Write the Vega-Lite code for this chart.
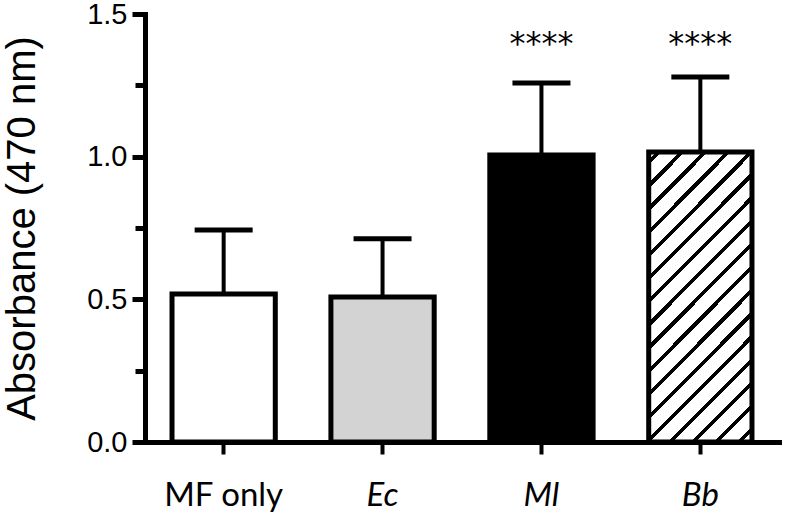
{
  "$schema": "https://vega.github.io/schema/vega-lite/v6.json",
  "width": 634,
  "height": 428,
  "autosize": "none",
  "padding": {"left": 145, "top": 14, "right": 8, "bottom": 77},
  "background": "white",
  "config": {"view": {"stroke": null}},
  "data": {
    "values": [
      {"group": "MF only", "mean": 0.519, "err": 0.743, "sig": ""},
      {"group": "Ec", "mean": 0.508, "err": 0.712, "sig": ""},
      {"group": "Ml", "mean": 1.006, "err": 1.258, "sig": "****"},
      {"group": "Bb", "mean": 1.016, "err": 1.279, "sig": "****"}
    ]
  },
  "encoding": {
    "x": {
      "field": "group",
      "type": "nominal",
      "sort": null,
      "scale": {"paddingInner": 0.35, "paddingOuter": 0.17},
      "axis": {
        "title": null,
        "labelAngle": 0,
        "labelFont": "Lato",
        "labelFontSize": 33,
        "labelColor": "black",
        "labelPadding": 25,
        "labelFontStyle": {"condition": {"test": "datum.value == 'MF only'", "value": "normal"}, "value": "italic"},
        "tickSize": 12,
        "tickWidth": 4,
        "tickColor": "black",
        "domainWidth": 5,
        "domainColor": "black",
        "domainCap": "square",
        "grid": false,
        "zindex": 1
      }
    }
  },
  "layer": [
    {
      "mark": {"type": "bar", "stroke": "black", "strokeWidth": 5},
      "encoding": {
        "y": {
          "field": "mean",
          "type": "quantitative",
          "scale": {"domain": [0, 1.5], "nice": false},
          "axis": {
            "orient": "left",
            "values": [0, 0.25, 0.5, 0.75, 1, 1.25, 1.5],
            "labelExpr": "datum.value % 0.5 == 0 ? format(datum.value, '.1f') : ''",
            "title": "Absorbance (470 nm)",
            "titleFont": "Liberation Sans",
            "titleFontSize": 40,
            "titleFontWeight": "normal",
            "titleColor": "black",
            "titlePadding": 44,
            "labelFont": "Liberation Sans",
            "labelFontSize": 29,
            "labelColor": "black",
            "labelPadding": 5,
            "tickSize": {"condition": {"test": "datum.value % 0.5 != 0", "value": 10}, "value": 13},
            "tickWidth": 5,
            "tickColor": "black",
            "domainWidth": 5,
            "domainColor": "black",
            "domainCap": "square",
            "grid": false,
            "zindex": 1
          }
        },
        "fill": {
          "condition": {
            "test": "datum.group == 'Bb'",
            "value": {
              "gradient": "linear",
              "x1": 0, "y1": 0, "x2": 0.432, "y2": 1.204,
              "stops": [
                {"offset": 0, "color": "white"},
                {"offset": 0.020, "color": "white"}, {"offset": 0.020, "color": "black"}, {"offset": 0.0335, "color": "black"}, {"offset": 0.0335, "color": "white"},
                {"offset": 0.0788, "color": "white"}, {"offset": 0.0788, "color": "black"}, {"offset": 0.0923, "color": "black"}, {"offset": 0.0923, "color": "white"},
                {"offset": 0.1376, "color": "white"}, {"offset": 0.1376, "color": "black"}, {"offset": 0.1511, "color": "black"}, {"offset": 0.1511, "color": "white"},
                {"offset": 0.1964, "color": "white"}, {"offset": 0.1964, "color": "black"}, {"offset": 0.2099, "color": "black"}, {"offset": 0.2099, "color": "white"},
                {"offset": 0.2552, "color": "white"}, {"offset": 0.2552, "color": "black"}, {"offset": 0.2687, "color": "black"}, {"offset": 0.2687, "color": "white"},
                {"offset": 0.3140, "color": "white"}, {"offset": 0.3140, "color": "black"}, {"offset": 0.3275, "color": "black"}, {"offset": 0.3275, "color": "white"},
                {"offset": 0.3728, "color": "white"}, {"offset": 0.3728, "color": "black"}, {"offset": 0.3863, "color": "black"}, {"offset": 0.3863, "color": "white"},
                {"offset": 0.4316, "color": "white"}, {"offset": 0.4316, "color": "black"}, {"offset": 0.4451, "color": "black"}, {"offset": 0.4451, "color": "white"},
                {"offset": 0.4904, "color": "white"}, {"offset": 0.4904, "color": "black"}, {"offset": 0.5039, "color": "black"}, {"offset": 0.5039, "color": "white"},
                {"offset": 0.5492, "color": "white"}, {"offset": 0.5492, "color": "black"}, {"offset": 0.5627, "color": "black"}, {"offset": 0.5627, "color": "white"},
                {"offset": 0.6080, "color": "white"}, {"offset": 0.6080, "color": "black"}, {"offset": 0.6215, "color": "black"}, {"offset": 0.6215, "color": "white"},
                {"offset": 0.6668, "color": "white"}, {"offset": 0.6668, "color": "black"}, {"offset": 0.6803, "color": "black"}, {"offset": 0.6803, "color": "white"},
                {"offset": 0.7256, "color": "white"}, {"offset": 0.7256, "color": "black"}, {"offset": 0.7391, "color": "black"}, {"offset": 0.7391, "color": "white"},
                {"offset": 0.7844, "color": "white"}, {"offset": 0.7844, "color": "black"}, {"offset": 0.7979, "color": "black"}, {"offset": 0.7979, "color": "white"},
                {"offset": 0.8432, "color": "white"}, {"offset": 0.8432, "color": "black"}, {"offset": 0.8567, "color": "black"}, {"offset": 0.8567, "color": "white"},
                {"offset": 0.9020, "color": "white"}, {"offset": 0.9020, "color": "black"}, {"offset": 0.9155, "color": "black"}, {"offset": 0.9155, "color": "white"},
                {"offset": 0.9608, "color": "white"}, {"offset": 0.9608, "color": "black"}, {"offset": 0.9743, "color": "black"}, {"offset": 0.9743, "color": "white"},
                {"offset": 1, "color": "white"}
              ]
            }
          },
          "field": "group",
          "type": "nominal",
          "scale": {"domain": ["MF only", "Ec", "Ml", "Bb"], "range": ["white", "#d3d3d3", "black", "white"]},
          "legend": null
        }
      }
    },
    {
      "mark": {"type": "rule", "stroke": "black", "strokeWidth": 4},
      "encoding": {
        "y": {"field": "mean", "type": "quantitative"},
        "y2": {"field": "err"}
      }
    },
    {
      "mark": {"type": "tick", "color": "black", "size": 58, "thickness": 5, "opacity": 1, "orient": "horizontal"},
      "encoding": {
        "y": {"field": "err", "type": "quantitative"}
      }
    },
    {
      "mark": {"type": "text", "font": "DejaVu Sans", "fontSize": 32, "baseline": "middle", "align": "center", "color": "black"},
      "encoding": {
        "y": {"datum": 1.395, "type": "quantitative"},
        "text": {"field": "sig"}
      }
    }
  ]
}
